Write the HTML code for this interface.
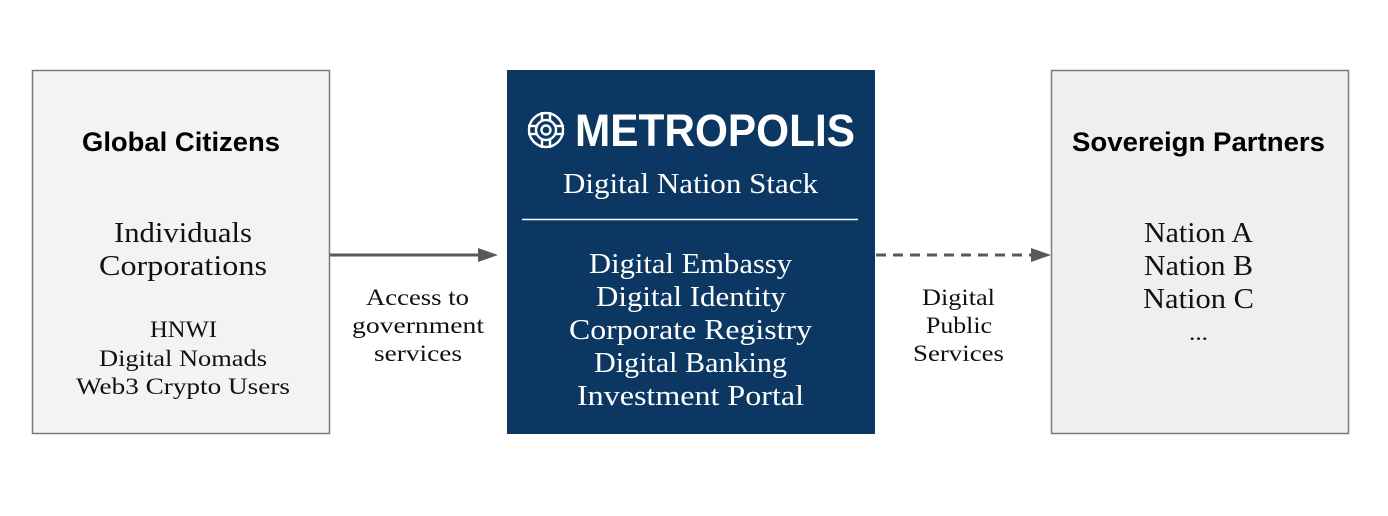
<!DOCTYPE html>
<html><head><meta charset="utf-8"><style>
html,body{margin:0;padding:0;background:#fff;}
svg{display:block;}
.s{font-family:"Liberation Serif",serif;}
.b{font-family:"Liberation Sans",sans-serif;font-weight:bold;}
</style></head><body>
<svg width="1388" height="516" viewBox="0 0 1388 516" xmlns="http://www.w3.org/2000/svg">
<rect x="32.5" y="70.5" width="297" height="363" fill="#f3f3f3" stroke="#7a7a7a" stroke-width="1.5"/>
<rect x="1051.5" y="70.5" width="297" height="363" fill="#efefef" stroke="#7a7a7a" stroke-width="1.5"/>
<rect x="507" y="70" width="368" height="364" fill="#0b3762"/>

<g lengthAdjust="spacingAndGlyphs">
<text class="b" x="82" y="151" font-size="27" fill="#000" textLength="198" lengthAdjust="spacingAndGlyphs">Global Citizens</text>
<g class="s" font-size="28" fill="#111">
<text x="114" y="242" textLength="138" lengthAdjust="spacingAndGlyphs">Individuals</text>
<text x="99" y="275" textLength="168" lengthAdjust="spacingAndGlyphs">Corporations</text>
</g>
<g class="s" font-size="23" fill="#111">
<text x="150" y="337" textLength="67" lengthAdjust="spacingAndGlyphs">HNWI</text>
<text x="99" y="366" textLength="168" lengthAdjust="spacingAndGlyphs">Digital Nomads</text>
<text x="76" y="394" textLength="214" lengthAdjust="spacingAndGlyphs">Web3 Crypto Users</text>
</g>

<text class="b" x="1072" y="151" font-size="27" fill="#000" textLength="253" lengthAdjust="spacingAndGlyphs">Sovereign Partners</text>
<g class="s" font-size="28" fill="#111">
<text x="1144" y="242" textLength="109" lengthAdjust="spacingAndGlyphs">Nation A</text>
<text x="1144" y="275" textLength="109" lengthAdjust="spacingAndGlyphs">Nation B</text>
<text x="1143" y="308" textLength="111" lengthAdjust="spacingAndGlyphs">Nation C</text>
<text x="1189" y="340" font-size="22" textLength="19" lengthAdjust="spacingAndGlyphs">...</text>
</g>

<!-- logo -->
<g stroke="#fff" fill="none" stroke-width="2.4">
<circle cx="546" cy="130" r="17"/>
<circle cx="546" cy="130" r="10"/>
<circle cx="546" cy="130" r="4.5"/>
<line x1="542" y1="112" x2="542" y2="121"/><line x1="550" y1="112" x2="550" y2="121"/>
<line x1="542" y1="139" x2="542" y2="148"/><line x1="550" y1="139" x2="550" y2="148"/>
<line x1="528" y1="126" x2="537" y2="126"/><line x1="528" y1="134" x2="537" y2="134"/>
<line x1="555" y1="126" x2="564" y2="126"/><line x1="555" y1="134" x2="564" y2="134"/>
</g>
<text class="b" x="575" y="146" font-size="45" fill="#fff" textLength="280" lengthAdjust="spacingAndGlyphs">METROPOLIS</text>
<text class="s" x="563" y="193" font-size="28" fill="#fff" textLength="255" lengthAdjust="spacingAndGlyphs">Digital Nation Stack</text>
<line x1="522" y1="219.5" x2="858" y2="219.5" stroke="#fff" stroke-width="1.5"/>
<g class="s" font-size="28" fill="#fff">
<text x="589" y="273" textLength="203" lengthAdjust="spacingAndGlyphs">Digital Embassy</text>
<text x="596" y="306" textLength="190" lengthAdjust="spacingAndGlyphs">Digital Identity</text>
<text x="569" y="339" textLength="243" lengthAdjust="spacingAndGlyphs">Corporate Registry</text>
<text x="594" y="372" textLength="193" lengthAdjust="spacingAndGlyphs">Digital Banking</text>
<text x="577" y="405" textLength="227" lengthAdjust="spacingAndGlyphs">Investment Portal</text>
</g>

<line x1="330" y1="255" x2="480" y2="255" stroke="#595959" stroke-width="3"/>
<polygon points="478,248 498,255 478,262" fill="#595959"/>
<line x1="876" y1="255" x2="1032" y2="255" stroke="#595959" stroke-width="3" stroke-dasharray="10,7"/>
<polygon points="1031,248 1051,255 1031,262" fill="#595959"/>

<g class="s" font-size="23" fill="#111">
<text x="366" y="305" textLength="103" lengthAdjust="spacingAndGlyphs">Access to</text>
<text x="352" y="333" textLength="132" lengthAdjust="spacingAndGlyphs">government</text>
<text x="374" y="361" textLength="88" lengthAdjust="spacingAndGlyphs">services</text>
<text x="922" y="305" textLength="73" lengthAdjust="spacingAndGlyphs">Digital</text>
<text x="926" y="333" textLength="66" lengthAdjust="spacingAndGlyphs">Public</text>
<text x="913" y="361" textLength="91" lengthAdjust="spacingAndGlyphs">Services</text>
</g>
</g>
</svg>
</body></html>
